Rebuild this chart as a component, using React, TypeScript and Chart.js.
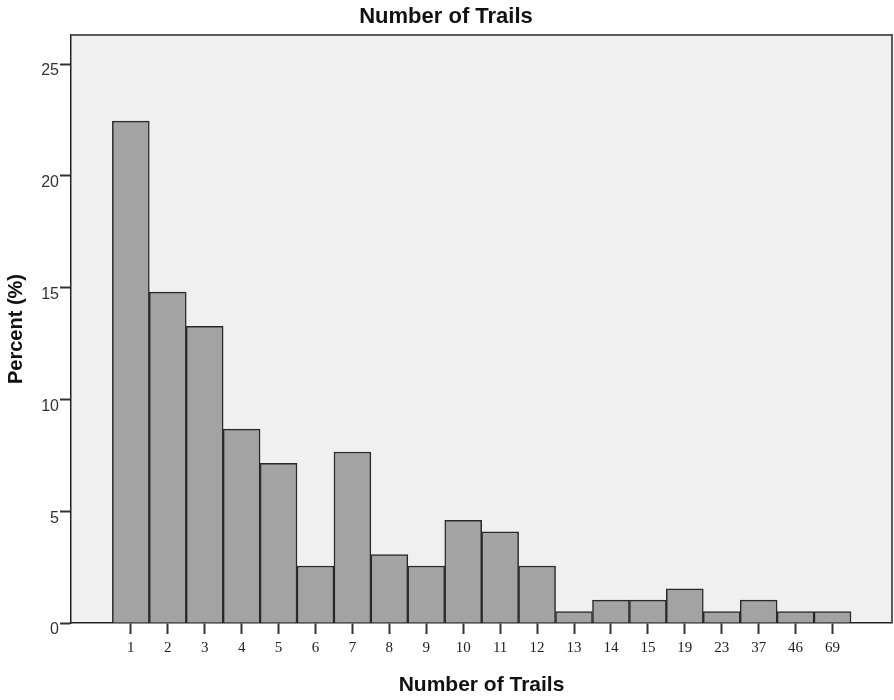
import React, { useEffect, useRef } from "react";
import { Chart, registerables } from "chart.js";

Chart.register(...registerables);

const categories = ["1", "2", "3", "4", "5", "6", "7", "8", "9", "10", "11", "12", "13", "14", "15", "19", "23", "37", "46", "69"];
const percents = [22.45, 14.8, 13.27, 8.67, 7.14, 2.55, 7.65, 3.06, 2.55, 4.59, 4.08, 2.55, 0.51, 1.02, 1.02, 1.53, 0.51, 1.02, 0.51, 0.51];
const yTicks = [0, 5, 10, 15, 20, 25];

const chartTitle = "Number of Trails";
const xTitle = "Number of Trails";
const yTitle = "Percent (%)";

const plotFrame = {
  id: "plotFrame",
  beforeDraw(chart: any) {
    const { ctx, chartArea } = chart;
    ctx.save();
    ctx.fillStyle = "#f0f0f0";
    ctx.fillRect(chartArea.left, chartArea.top, chartArea.right - chartArea.left, chartArea.bottom - chartArea.top);
    ctx.restore();
  },
  afterDraw(chart: any) {
    const { ctx, chartArea } = chart;
    ctx.save();
    ctx.strokeStyle = "#5a5a5a";
    ctx.lineWidth = 2;
    ctx.beginPath();
    ctx.moveTo(chartArea.left, chartArea.top);
    ctx.lineTo(chartArea.right, chartArea.top);
    ctx.lineTo(chartArea.right, chartArea.bottom);
    ctx.stroke();
    ctx.restore();
  },
};

export default function App() {
  const ref = useRef<HTMLCanvasElement>(null);

  useEffect(() => {
    document.body.style.margin = "0";
    const canvas = ref.current;
    if (!canvas) return;
    const n = categories.length;
    const chart = new Chart(canvas, {
      type: "bar",
      data: {
        datasets: [
          {
            data: percents.map((v, i) => ({ x: i + 1, y: v })),
            backgroundColor: "#a3a3a3",
            borderColor: "#2a2a2a",
            borderWidth: 1.5,
            barPercentage: 1,
            categoryPercentage: 1,
          },
        ],
      },
      options: {
        animation: false,
        responsive: false,
        devicePixelRatio: 1,
        layout: { padding: { left: 0, right: 2, top: 0, bottom: 0 } },
        plugins: {
          legend: { display: false },
          tooltip: { enabled: false },
          title: {
            display: true,
            text: chartTitle,
            color: "#111",
            font: { family: "Liberation Sans", size: 22, weight: "bold", lineHeight: 1.2 },
            padding: { top: 4, bottom: 4.6 },
          },
        },
        scales: {
          x: {
            type: "linear",
            offset: false,
            min: 1 - 0.5 - 1.12,
            max: n + 0.5 + 1.11,
            afterFit: (scale: any) => {
              scale.height = 77;
            },
            afterBuildTicks: (scale: any) => {
              scale.ticks = categories.map((_, i) => ({ value: i + 1 }));
            },
            ticks: {
              stepSize: 1,
              includeBounds: false,
              autoSkip: false,
              maxRotation: 0,
              padding: 5,
              color: "#222",
              font: { family: "Liberation Serif", size: 15 },
              callback: (v: any) => categories[Math.round(Number(v)) - 1] ?? "",
            },
            grid: {
              offset: false,
              drawOnChartArea: false,
              drawTicks: true,
              tickLength: 11,
              tickWidth: 2,
              tickColor: "#333",
            },
            border: { display: true, color: "#222", width: 1.5 },
            title: {
              display: true,
              text: xTitle,
              color: "#111",
              font: { family: "Liberation Sans", size: 21, weight: "bold", lineHeight: 1.2 },
              padding: { top: 0, bottom: 2.4 },
            },
          },
          y: {
            type: "linear",
            min: 0,
            max: 26.3,
            afterFit: (scale: any) => {
              scale.width = 71;
            },
            afterBuildTicks: (scale: any) => {
              scale.ticks = yTicks.map((v) => ({ value: v }));
            },
            ticks: {
              stepSize: 5,
              includeBounds: false,
              padding: 1,
              labelOffset: 7,
              color: "#333",
              font: { family: "Liberation Sans", size: 16 },
            },
            grid: {
              drawOnChartArea: false,
              drawTicks: true,
              tickLength: 11,
              tickWidth: 2,
              tickColor: "#333",
            },
            border: { display: true, color: "#222", width: 1.5 },
            title: {
              display: true,
              text: yTitle,
              color: "#111",
              font: { family: "Liberation Sans", size: 20, weight: "bold", lineHeight: 1.2 },
              padding: { top: 4, bottom: 0 },
            },
          },
        },
      },
      plugins: [plotFrame],
    } as any);
    return () => chart.destroy();
  }, []);

  return (
    <div style={{ width: 894, height: 700, background: "#fff" }}>
      <canvas ref={ref} width={894} height={700} />
    </div>
  );
}
